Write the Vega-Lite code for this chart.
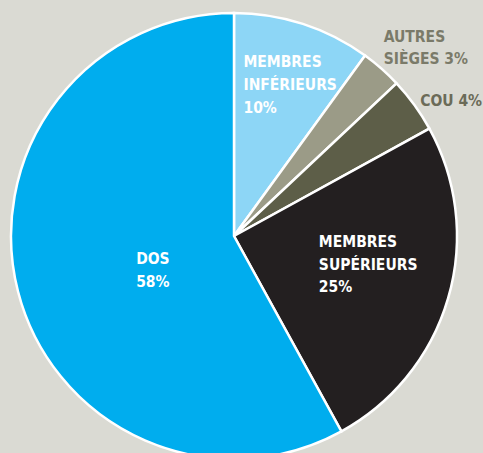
{
  "$schema": "https://vega.github.io/schema/vega-lite/v6.json",
  "autosize": "none",
  "width": 468,
  "height": 434,
  "padding": {"left": 0, "right": 15, "top": 19, "bottom": 0},
  "background": "#dadad3",
  "config": {"view": {"stroke": null}, "text": {"font": "DejaVu Sans Condensed, Open Sans, sans-serif", "fontWeight": "bold", "fontSize": 15.5}},
  "data": {"values": [
    {"idx": 1, "cat": "MI", "value": 10, "label": "MEMBRES\nINFÉRIEURS\n10%"},
    {"idx": 2, "cat": "AUTRES", "value": 3, "label": "AUTRES\nSIÈGES 3%"},
    {"idx": 3, "cat": "COU", "value": 4, "label": "COU 4%"},
    {"idx": 4, "cat": "MS", "value": 25, "label": "MEMBRES\nSUPÉRIEURS\n25%"},
    {"idx": 5, "cat": "DOS", "value": 58, "label": "DOS\n58%"}
  ]},
  "encoding": {
    "theta": {"field": "value", "type": "quantitative", "stack": true},
    "order": {"field": "idx", "type": "quantitative"}
  },
  "layer": [
    {
      "mark": {"type": "arc", "radius": 223, "stroke": "white", "strokeWidth": 2.5},
      "encoding": {
        "color": {"field": "cat", "type": "nominal", "legend": null,
          "scale": {"domain": ["MI", "AUTRES", "COU", "MS", "DOS"],
                    "range": ["#8dd6f6", "#9b9b87", "#5d5e48", "#231f20", "#00adee"]}}
      }
    },
    {
      "mark": {"type": "text", "radius": 160, "align": "left", "baseline": "alphabetic", "dx": -40, "dy": -17,
        "lineBreak": "\n", "lineHeight": 23, "color": "white"},
      "encoding": {"text": {"condition": {"test": "datum.cat === 'MI'", "field": "label"}, "value": ""}}
    },
    {
      "mark": {"type": "text", "radius": 240, "align": "left", "baseline": "alphabetic", "dx": -9, "dy": -14,
        "lineBreak": "\n", "lineHeight": 22, "color": "#7a7a69"},
      "encoding": {"text": {"condition": {"test": "datum.cat === 'AUTRES'", "field": "label"}, "value": ""}}
    },
    {
      "mark": {"type": "text", "radius": 240, "align": "left", "baseline": "alphabetic", "dx": -8, "dy": 11,
        "lineBreak": "\n", "lineHeight": 22, "color": "#6b6b58"},
      "encoding": {"text": {"condition": {"test": "datum.cat === 'COU'", "field": "label"}, "value": ""}}
    },
    {
      "mark": {"type": "text", "radius": 130, "align": "left", "baseline": "alphabetic", "dx": -40, "dy": -25,
        "lineBreak": "\n", "lineHeight": 22.5, "color": "white"},
      "encoding": {"text": {"condition": {"test": "datum.cat === 'MS'", "field": "label"}, "value": ""}}
    },
    {
      "mark": {"type": "text", "radius": 100, "align": "left", "baseline": "alphabetic", "dx": -1, "dy": 3,
        "lineBreak": "\n", "lineHeight": 23, "color": "white"},
      "encoding": {"text": {"condition": {"test": "datum.cat === 'DOS'", "field": "label"}, "value": ""}}
    }
  ]
}
